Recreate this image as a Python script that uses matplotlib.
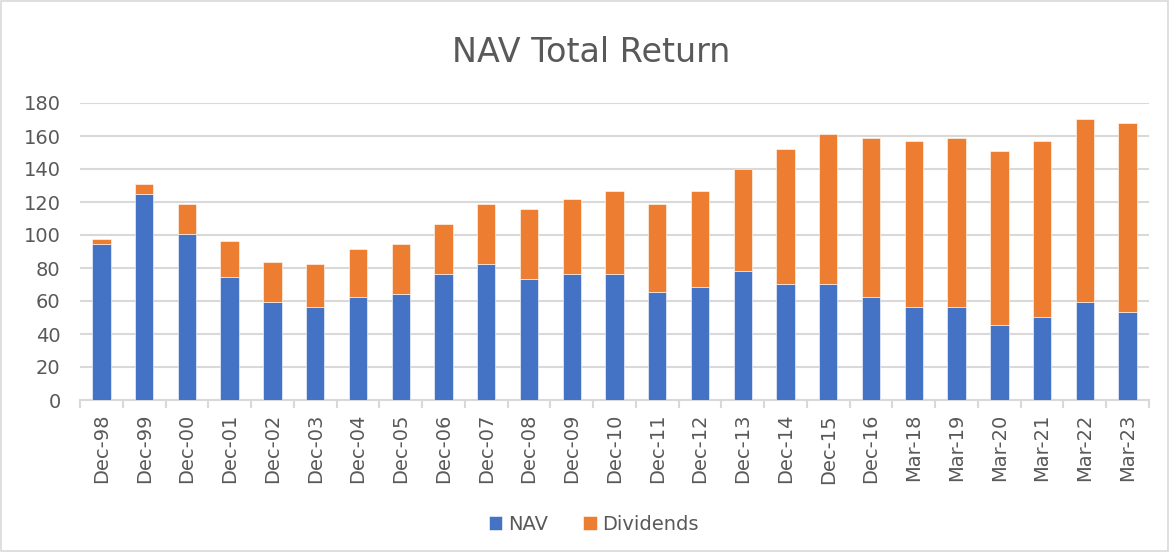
import matplotlib
matplotlib.use('Agg')
import matplotlib.pyplot as plt
import numpy as np
from matplotlib.patches import Rectangle

# values
labels = ['Dec-98', 'Dec-99', 'Dec-00', 'Dec-01', 'Dec-02', 'Dec-03', 'Dec-04',
          'Dec-05', 'Dec-06', 'Dec-07', 'Dec-08', 'Dec-09', 'Dec-10', 'Dec-11',
          'Dec-12', 'Dec-13', 'Dec-14', 'Dec-15', 'Dec-16', 'Mar-18', 'Mar-19',
          'Mar-20', 'Mar-21', 'Mar-22', 'Mar-23']
nav = [94.5, 125.1, 100.6, 74.7, 59.5, 56.3, 62.6, 64.0, 76.3, 82.4, 73.3, 76.3,
       76.3, 65.6, 68.6, 77.9, 70.2, 70.2, 62.6, 56.3, 56.3, 45.7, 50.2, 59.5, 53.4]
total = [97.6, 131.2, 119.0, 96.2, 83.8, 82.6, 91.5, 94.5, 106.7, 119.0, 116.0, 122.1,
         126.7, 119.0, 126.7, 140.3, 152.4, 161.5, 158.5, 157.1, 158.5, 151.0, 157.1,
         170.6, 167.6]
dividends = [t - n for t, n in zip(total, nav)]

c_nav = '#4472C4'
c_div = '#ED7D31'
txt = '#595959'
grid = '#D9D9D9'

plt.rcParams['font.family'] = ['DejaVu Sans']

fig = plt.figure(figsize=(11.69, 5.52), dpi=100)
ax = fig.add_axes([80/1169, 152/552, 1069/1169, 297/552])

x = np.arange(len(labels))
w = 0.43
ax.bar(x, nav, w, color=c_nav, edgecolor='white', linewidth=0.4, label='NAV', zorder=3)
ax.bar(x, dividends, w, bottom=nav, color=c_div, edgecolor='white', linewidth=0.4,
       label='Dividends', zorder=3)

ax.set_xlim(-0.5, len(labels) - 0.5)
ax.set_ylim(0, 180)
ax.set_yticks(range(0, 181, 20))
ax.yaxis.grid(True, color=grid, linewidth=1.5, zorder=0)
ax.tick_params(axis='y', length=0, labelsize=14, labelcolor=txt, pad=14)

ax.set_xticks(x)
ax.set_xticklabels(labels, rotation=90, fontsize=14, color=txt)
ax.set_xticks(np.arange(-0.5, len(labels)), minor=True)
ax.tick_params(axis='x', which='major', length=0, pad=10)
ax.tick_params(axis='x', which='minor', length=6, color=grid, width=1.5)

for s in ['top', 'right', 'left']:
    ax.spines[s].set_visible(False)
ax.spines['bottom'].set_color(grid)
ax.spines['bottom'].set_linewidth(1.5)

fig.text(0.506, 1 - 52/552, 'NAV Total Return', ha='center', va='center',
         fontsize=24, color=txt)

fig.legend(loc='center', bbox_to_anchor=(0.508, 1 - 524/552), ncol=2, frameon=False,
           fontsize=14, labelcolor=txt, handlelength=0.7, handleheight=0.7,
           handletextpad=0.3, columnspacing=1.8)

fig.patches.append(Rectangle((0.001, 0.001), 0.998, 0.997, transform=fig.transFigure,
                             fill=False, edgecolor=grid, linewidth=1.2))

plt.savefig('out.png', dpi=100)
